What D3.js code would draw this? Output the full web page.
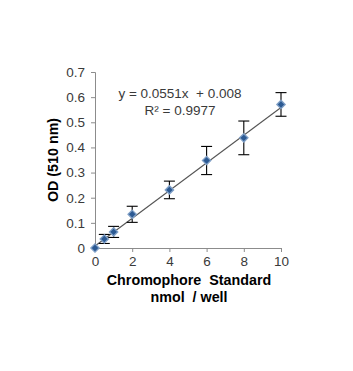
<!DOCTYPE html>
<html>
<head>
<meta charset="utf-8">
<script src="https://cdn.jsdelivr.net/npm/d3@7"></script>
<style>
  body { margin: 0; background: #fff; }
  svg text { font-family: "Liberation Sans", Arial, sans-serif; }
</style>
</head>
<body>
<div id="chart"></div>
<script>
// nmol / well
const amounts = [0, 0.5, 1, 2, 4, 6, 8, 10];
// OD at 510 nm
const odValues = [0, 0.036, 0.064, 0.134, 0.231, 0.348, 0.438, 0.571];
const odErrors = [0, 0.018, 0.022, 0.032, 0.035, 0.056, 0.067, 0.047];
const xTicks = [0, 2, 4, 6, 8, 10];
const yTicks = [0, 0.1, 0.2, 0.3, 0.4, 0.5, 0.6, 0.7];
const slope = 0.0551, intercept = 0.008;
const eqLabel = "y = 0.0551x  + 0.008";
const r2Label = "R² = 0.9977";

const margin = { top: 72, right: 72, bottom: 123, left: 95 },
    width = 353 - margin.left - margin.right,
    height = 371 - margin.top - margin.bottom;

const svg = d3.select("#chart")
    .append("svg")
    .attr("width", 353)
    .attr("height", 371)
    .append("g")
    .attr("transform", `translate(${margin.left},${margin.top})`);

const x = d3.scaleLinear().domain([0, 10]).range([0, width]);
const y = d3.scaleLinear().domain([0, 0.7]).range([height, 0]);

// axes
const xAxis = svg.append("g")
    .attr("transform", "translate(0," + height + ")")
    .call(d3.axisBottom(x).tickValues(xTicks).tickSize(4).tickPadding(4).tickFormat(d3.format("d")));
const yAxis = svg.append("g")
    .call(d3.axisLeft(y).tickValues(yTicks).tickSize(4).tickPadding(6).tickFormat(d => d === 0 ? "0" : d3.format(".1f")(d)));

[xAxis, yAxis].forEach(a => {
    a.select(".domain").attr("stroke", "#8c8c8c");
    a.selectAll(".tick line").attr("stroke", "#8c8c8c");
    a.selectAll(".tick text")
        .attr("fill", "#3a3a3a")
        .style("font-size", "13.5px");
});

// trendline
svg.append("line")
    .attr("x1", x(0)).attr("y1", y(intercept))
    .attr("x2", x(10)).attr("y2", y(slope * 10 + intercept))
    .attr("stroke", "#555")
    .attr("stroke-width", 1.1);

// error bars
const bars = svg.append("g")
    .selectAll("g")
    .data(amounts.map((a, i) => ({ a: a, v: odValues[i], e: odErrors[i] })).filter(d => d.e > 0))
    .enter()
    .append("g")
    .attr("stroke", "#000")
    .attr("stroke-width", 1.1);
bars.append("line")
    .attr("x1", d => x(d.a)).attr("x2", d => x(d.a))
    .attr("y1", d => y(d.v + d.e)).attr("y2", d => y(d.v - d.e));
bars.append("line")
    .attr("x1", d => x(d.a) - 5.5).attr("x2", d => x(d.a) + 5.5)
    .attr("y1", d => y(d.v + d.e)).attr("y2", d => y(d.v + d.e));
bars.append("line")
    .attr("x1", d => x(d.a) - 5.5).attr("x2", d => x(d.a) + 5.5)
    .attr("y1", d => y(d.v - d.e)).attr("y2", d => y(d.v - d.e));

// markers
const diamond = d3.symbol().type(d3.symbolDiamond2).size(44);
svg.append("g")
    .selectAll("path")
    .data(amounts)
    .enter()
    .append("path")
    .attr("transform", (d, i) => `translate(${x(d)},${y(odValues[i])})`)
    .attr("d", diamond)
    .attr("fill", "#2c5a93")
    .attr("stroke", "#7f9fc6")
    .attr("stroke-width", 1.3);

// equation
svg.append("text")
    .attr("x", 180 - margin.left).attr("y", 98 - margin.top)
    .attr("text-anchor", "middle")
    .attr("fill", "#3a3a3a")
    .style("font-size", "13.5px")
    .style("white-space", "pre")
    .text(eqLabel);
svg.append("text")
    .attr("x", 180 - margin.left).attr("y", 115 - margin.top)
    .attr("text-anchor", "middle")
    .attr("fill", "#3a3a3a")
    .style("font-size", "13.5px")
    .text(r2Label);

// axis titles
svg.append("text")
    .attr("x", 189 - margin.left).attr("y", 285 - margin.top)
    .attr("text-anchor", "middle")
    .style("font-size", "14.3px")
    .style("font-weight", "bold")
    .style("white-space", "pre")
    .text("Chromophore  Standard");
svg.append("text")
    .attr("x", 189 - margin.left).attr("y", 302 - margin.top)
    .attr("text-anchor", "middle")
    .style("font-size", "14.3px")
    .style("font-weight", "bold")
    .style("white-space", "pre")
    .text("nmol  / well");
svg.append("text")
    .attr("transform", `translate(${58 - margin.left},${160 - margin.top}) rotate(-90)`)
    .attr("text-anchor", "middle")
    .style("font-size", "14.3px")
    .style("font-weight", "bold")
    .text("OD (510 nm)");
</script>
</body>
</html>
